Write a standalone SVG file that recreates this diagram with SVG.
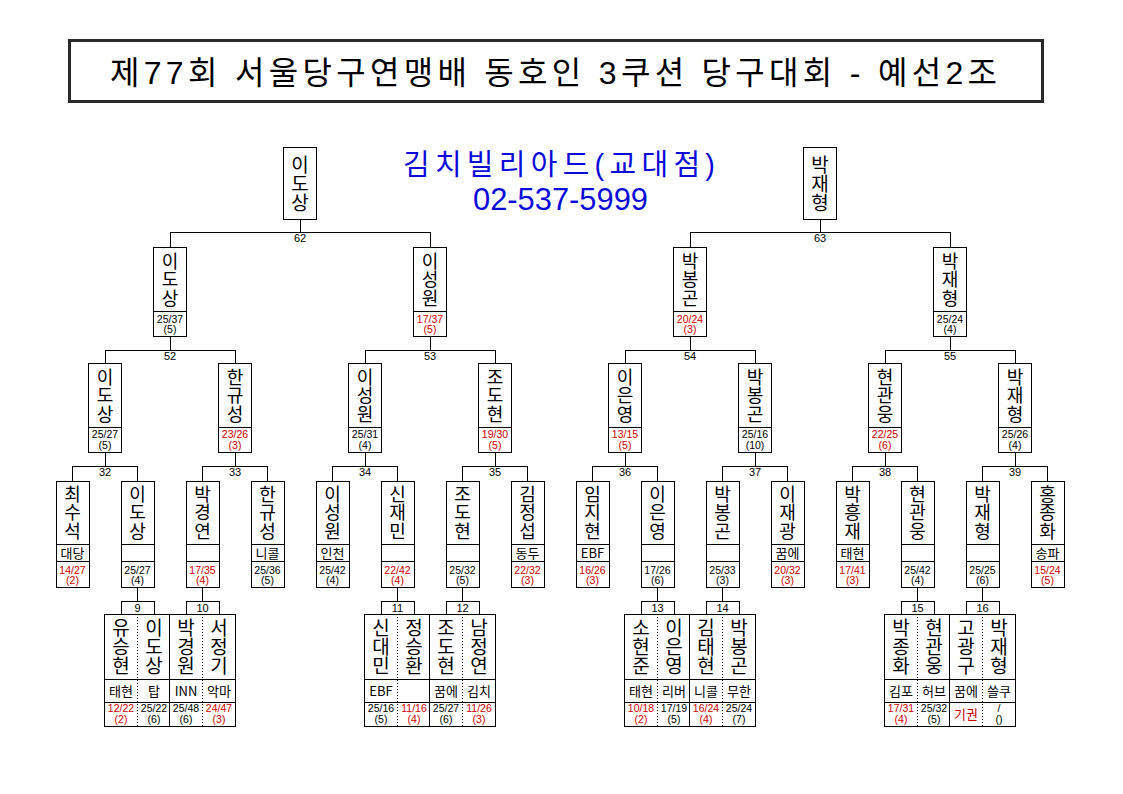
<svg xmlns="http://www.w3.org/2000/svg" width="1123" height="794" viewBox="0 0 1123 794">
<style>
.b{fill:#fff;stroke:#000;stroke-width:1;shape-rendering:crispEdges}
.l{fill:none;stroke:#000;stroke-width:1;shape-rendering:crispEdges}
.d{fill:none;stroke:#000;stroke-width:1;stroke-dasharray:1 2;shape-rendering:crispEdges}
.nm,.nf,.np{font-family:'Noto Sans CJK KR',sans-serif;text-anchor:middle;fill:#000;writing-mode:vertical-rl;text-orientation:upright}
.nm{font-size:18px;letter-spacing:0.5px}
.nf{font-size:19px}
.np{font-size:19px}
.cl{font-family:'Noto Sans CJK KR',sans-serif;font-size:13px;text-anchor:middle;fill:#000}
.sc{font-family:'Liberation Sans','Noto Sans CJK KR',sans-serif;font-size:10.5px;text-anchor:middle;fill:#000}
.no{font-family:'Liberation Sans',sans-serif;font-size:11px;text-anchor:middle;fill:#000}
.r{fill:#cc0000}
.hd{font-family:'Liberation Sans','Noto Sans CJK KR',sans-serif;fill:#0a0ad8;text-anchor:middle}
</style>
<rect width="1123" height="794" fill="#fff"/>
<g id="title">
<rect x="69.5" y="40.5" width="973" height="61" fill="none" stroke="#2a2a2a" stroke-width="3"/>
<text x="553.5" y="84" font-family="'Liberation Sans','Noto Sans CJK KR',sans-serif" font-size="32" text-anchor="middle" textLength="887" lengthAdjust="spacing">제77회 서울당구연맹배 동호인 3쿠션 당구대회 - 예선2조</text>
</g>
<g id="header">
<text class="hd" x="559" y="174.5" font-size="29" textLength="312" lengthAdjust="spacing">김치빌리아드(교대점)</text>
<text class="hd" x="560.5" y="210" font-size="31" textLength="175" lengthAdjust="spacingAndGlyphs">02-537-5999</text>
</g>
<g id="connectors">
<path class="l" d="M170 247.5V232H430V247.5M300 219.5V232M690 247.5V232H950V247.5M820 219.5V232"/>
<path class="l" d="M105 363.5V350H235V363.5M170 336.5V350M365 363.5V350H495V363.5M430 336.5V350M625 363.5V350H755V363.5M690 336.5V350M885 363.5V350H1015V363.5M950 336.5V350"/>
<path class="l" d="M72.5 481V466H137.5V481M105 452.5V466M202.5 481V466H267.5V481M235 452.5V466M332.5 481V466H397.5V481M365 452.5V466M462.5 481V466H527.5V481M495 452.5V466M592.5 481V466H657.5V481M625 452.5V466M722.5 481V466H787.5V481M755 452.5V466M852.5 481V466H917.5V481M885 452.5V466M982.5 481V466H1047.5V481M1015 452.5V466"/>
<path class="l" d="M137.5 587V601M202.5 587V601M397.5 587V601M462.5 587V601M657.5 587V601M722.5 587V601M917.5 587V601M982.5 587V601"/>
<text class="no" x="300" y="242">62</text><text class="no" x="820" y="242">63</text>
<text class="no" x="170" y="360">52</text><text class="no" x="430" y="360">53</text><text class="no" x="690" y="360">54</text><text class="no" x="950" y="360">55</text>
<text class="no" x="105" y="476">32</text><text class="no" x="235" y="476">33</text><text class="no" x="365" y="476">34</text><text class="no" x="495" y="476">35</text><text class="no" x="625" y="476">36</text><text class="no" x="755" y="476">37</text><text class="no" x="885" y="476">38</text><text class="no" x="1015" y="476">39</text>
</g>
<g id="f1"><rect class="b" x="283.5" y="147.5" width="33" height="72"/><text class="nf" x="300" y="183.5">이도상</text></g>
<g id="f2"><rect class="b" x="803.5" y="147.5" width="33" height="72"/><text class="nf" x="820" y="183.5">박재형</text></g>
<g id="s1"><rect class="b" x="153.5" y="247.5" width="33" height="89"/><path class="l" d="M153.5 311.5H186.5"/><text class="nm" x="170" y="279.5">이도상</text><text class="sc"><tspan x="170" y="322.5">25/37</tspan><tspan x="170" y="333">(5)</tspan></text></g>
<g id="s2"><rect class="b" x="413.5" y="247.5" width="33" height="89"/><path class="l" d="M413.5 311.5H446.5"/><text class="nm" x="430" y="279.5">이성원</text><text class="sc r"><tspan x="430" y="322.5">17/37</tspan><tspan x="430" y="333">(5)</tspan></text></g>
<g id="s3"><rect class="b" x="673.5" y="247.5" width="33" height="89"/><path class="l" d="M673.5 311.5H706.5"/><text class="nm" x="690" y="279.5">박봉곤</text><text class="sc r"><tspan x="690" y="322.5">20/24</tspan><tspan x="690" y="333">(3)</tspan></text></g>
<g id="s4"><rect class="b" x="933.5" y="247.5" width="33" height="89"/><path class="l" d="M933.5 311.5H966.5"/><text class="nm" x="950" y="279.5">박재형</text><text class="sc"><tspan x="950" y="322.5">25/24</tspan><tspan x="950" y="333">(4)</tspan></text></g>
<g id="q1"><rect class="b" x="88.5" y="363.5" width="33" height="89"/><path class="l" d="M88.5 427.5H121.5"/><text class="nm" x="105" y="395.5">이도상</text><text class="sc"><tspan x="105" y="438">25/27</tspan><tspan x="105" y="449">(5)</tspan></text></g>
<g id="q2"><rect class="b" x="218.5" y="363.5" width="33" height="89"/><path class="l" d="M218.5 427.5H251.5"/><text class="nm" x="235" y="395.5">한규성</text><text class="sc r"><tspan x="235" y="438">23/26</tspan><tspan x="235" y="449">(3)</tspan></text></g>
<g id="q3"><rect class="b" x="348.5" y="363.5" width="33" height="89"/><path class="l" d="M348.5 427.5H381.5"/><text class="nm" x="365" y="395.5">이성원</text><text class="sc"><tspan x="365" y="438">25/31</tspan><tspan x="365" y="449">(4)</tspan></text></g>
<g id="q4"><rect class="b" x="478.5" y="363.5" width="33" height="89"/><path class="l" d="M478.5 427.5H511.5"/><text class="nm" x="495" y="395.5">조도현</text><text class="sc r"><tspan x="495" y="438">19/30</tspan><tspan x="495" y="449">(5)</tspan></text></g>
<g id="q5"><rect class="b" x="608.5" y="363.5" width="33" height="89"/><path class="l" d="M608.5 427.5H641.5"/><text class="nm" x="625" y="395.5">이은영</text><text class="sc r"><tspan x="625" y="438">13/15</tspan><tspan x="625" y="449">(5)</tspan></text></g>
<g id="q6"><rect class="b" x="738.5" y="363.5" width="33" height="89"/><path class="l" d="M738.5 427.5H771.5"/><text class="nm" x="755" y="395.5">박봉곤</text><text class="sc"><tspan x="755" y="438">25/16</tspan><tspan x="755" y="449">(10)</tspan></text></g>
<g id="q7"><rect class="b" x="868.5" y="363.5" width="33" height="89"/><path class="l" d="M868.5 427.5H901.5"/><text class="nm" x="885" y="395.5">현관웅</text><text class="sc r"><tspan x="885" y="438">22/25</tspan><tspan x="885" y="449">(6)</tspan></text></g>
<g id="q8"><rect class="b" x="998.5" y="363.5" width="33" height="89"/><path class="l" d="M998.5 427.5H1031.5"/><text class="nm" x="1015" y="395.5">박재형</text><text class="sc"><tspan x="1015" y="438">25/26</tspan><tspan x="1015" y="449">(4)</tspan></text></g>
<g id="r1"><rect class="b" x="56" y="481" width="33" height="106"/><path class="l" d="M56 544H89M56 561H89"/><text class="nm" x="72.5" y="512.5">최수석</text><text class="cl" x="72.5" y="557.5">대당</text><text class="sc r"><tspan x="72.5" y="573.5">14/27</tspan><tspan x="72.5" y="584">(2)</tspan></text></g>
<g id="r2"><rect class="b" x="121" y="481" width="33" height="106"/><path class="l" d="M121 544H154M121 561H154"/><text class="nm" x="137.5" y="512.5">이도상</text><text class="sc"><tspan x="137.5" y="573.5">25/27</tspan><tspan x="137.5" y="584">(4)</tspan></text></g>
<g id="r3"><rect class="b" x="186" y="481" width="33" height="106"/><path class="l" d="M186 544H219M186 561H219"/><text class="nm" x="202.5" y="512.5">박경연</text><text class="sc r"><tspan x="202.5" y="573.5">17/35</tspan><tspan x="202.5" y="584">(4)</tspan></text></g>
<g id="r4"><rect class="b" x="251" y="481" width="33" height="106"/><path class="l" d="M251 544H284M251 561H284"/><text class="nm" x="267.5" y="512.5">한규성</text><text class="cl" x="267.5" y="557.5">니콜</text><text class="sc"><tspan x="267.5" y="573.5">25/36</tspan><tspan x="267.5" y="584">(5)</tspan></text></g>
<g id="r5"><rect class="b" x="316" y="481" width="33" height="106"/><path class="l" d="M316 544H349M316 561H349"/><text class="nm" x="332.5" y="512.5">이성원</text><text class="cl" x="332.5" y="557.5">인천</text><text class="sc"><tspan x="332.5" y="573.5">25/42</tspan><tspan x="332.5" y="584">(4)</tspan></text></g>
<g id="r6"><rect class="b" x="381" y="481" width="33" height="106"/><path class="l" d="M381 544H414M381 561H414"/><text class="nm" x="397.5" y="512.5">신재민</text><text class="sc r"><tspan x="397.5" y="573.5">22/42</tspan><tspan x="397.5" y="584">(4)</tspan></text></g>
<g id="r7"><rect class="b" x="446" y="481" width="33" height="106"/><path class="l" d="M446 544H479M446 561H479"/><text class="nm" x="462.5" y="512.5">조도현</text><text class="sc"><tspan x="462.5" y="573.5">25/32</tspan><tspan x="462.5" y="584">(5)</tspan></text></g>
<g id="r8"><rect class="b" x="511" y="481" width="33" height="106"/><path class="l" d="M511 544H544M511 561H544"/><text class="nm" x="527.5" y="512.5">김정섭</text><text class="cl" x="527.5" y="557.5">동두</text><text class="sc r"><tspan x="527.5" y="573.5">22/32</tspan><tspan x="527.5" y="584">(3)</tspan></text></g>
<g id="r9"><rect class="b" x="576" y="481" width="33" height="106"/><path class="l" d="M576 544H609M576 561H609"/><text class="nm" x="592.5" y="512.5">임지현</text><text class="cl" x="592.5" y="557.5">EBF</text><text class="sc r"><tspan x="592.5" y="573.5">16/26</tspan><tspan x="592.5" y="584">(3)</tspan></text></g>
<g id="r10"><rect class="b" x="641" y="481" width="33" height="106"/><path class="l" d="M641 544H674M641 561H674"/><text class="nm" x="657.5" y="512.5">이은영</text><text class="sc"><tspan x="657.5" y="573.5">17/26</tspan><tspan x="657.5" y="584">(6)</tspan></text></g>
<g id="r11"><rect class="b" x="706" y="481" width="33" height="106"/><path class="l" d="M706 544H739M706 561H739"/><text class="nm" x="722.5" y="512.5">박봉곤</text><text class="sc"><tspan x="722.5" y="573.5">25/33</tspan><tspan x="722.5" y="584">(3)</tspan></text></g>
<g id="r12"><rect class="b" x="771" y="481" width="33" height="106"/><path class="l" d="M771 544H804M771 561H804"/><text class="nm" x="787.5" y="512.5">이재광</text><text class="cl" x="787.5" y="557.5">꿈에</text><text class="sc r"><tspan x="787.5" y="573.5">20/32</tspan><tspan x="787.5" y="584">(3)</tspan></text></g>
<g id="r13"><rect class="b" x="836" y="481" width="33" height="106"/><path class="l" d="M836 544H869M836 561H869"/><text class="nm" x="852.5" y="512.5">박흥재</text><text class="cl" x="852.5" y="557.5">태현</text><text class="sc r"><tspan x="852.5" y="573.5">17/41</tspan><tspan x="852.5" y="584">(3)</tspan></text></g>
<g id="r14"><rect class="b" x="901" y="481" width="33" height="106"/><path class="l" d="M901 544H934M901 561H934"/><text class="nm" x="917.5" y="512.5">현관웅</text><text class="sc"><tspan x="917.5" y="573.5">25/42</tspan><tspan x="917.5" y="584">(4)</tspan></text></g>
<g id="r15"><rect class="b" x="966" y="481" width="33" height="106"/><path class="l" d="M966 544H999M966 561H999"/><text class="nm" x="982.5" y="512.5">박재형</text><text class="sc"><tspan x="982.5" y="573.5">25/25</tspan><tspan x="982.5" y="584">(6)</tspan></text></g>
<g id="r16"><rect class="b" x="1031" y="481" width="33" height="106"/><path class="l" d="M1031 544H1064M1031 561H1064"/><text class="nm" x="1047.5" y="512.5">홍종화</text><text class="cl" x="1047.5" y="557.5">송파</text><text class="sc r"><tspan x="1047.5" y="573.5">15/24</tspan><tspan x="1047.5" y="584">(5)</tspan></text></g>
<g id="p9"><rect class="b" x="121" y="601" width="33" height="13"/><text class="no" x="137.5" y="612">9</text><rect class="b" x="104.5" y="614" width="66" height="112"/><path class="l" d="M104.5 679H170.5M104.5 702H170.5"/><path class="d" d="M137.5 614V726"/>
<text class="np" x="121" y="646.5">유승현</text><text class="np" x="154" y="646.5">이도상</text>
<text class="cl" x="121" y="695.5">태현</text><text class="cl" x="154" y="695.5">탑</text>
<text class="sc r"><tspan x="121" y="712">12/22</tspan><tspan x="121" y="722.5">(2)</tspan></text><text class="sc"><tspan x="154" y="712">25/22</tspan><tspan x="154" y="722.5">(6)</tspan></text></g>
<g id="p10"><rect class="b" x="186" y="601" width="33" height="13"/><text class="no" x="202.5" y="612">10</text><rect class="b" x="169.5" y="614" width="66" height="112"/><path class="l" d="M169.5 679H235.5M169.5 702H235.5"/><path class="d" d="M202.5 614V726"/>
<text class="np" x="186" y="646.5">박경원</text><text class="np" x="219" y="646.5">서정기</text>
<text class="cl" x="186" y="695.5">INN</text><text class="cl" x="219" y="695.5">악마</text>
<text class="sc"><tspan x="186" y="712">25/48</tspan><tspan x="186" y="722.5">(6)</tspan></text><text class="sc r"><tspan x="219" y="712">24/47</tspan><tspan x="219" y="722.5">(3)</tspan></text></g>
<g id="p11"><rect class="b" x="381" y="601" width="33" height="13"/><text class="no" x="397.5" y="612">11</text><rect class="b" x="364.5" y="614" width="66" height="112"/><path class="l" d="M364.5 679H430.5M364.5 702H430.5"/><path class="d" d="M397.5 614V726"/>
<text class="np" x="381" y="646.5">신대민</text><text class="np" x="414" y="646.5">정승환</text>
<text class="cl" x="381" y="695.5">EBF</text>
<text class="sc"><tspan x="381" y="712">25/16</tspan><tspan x="381" y="722.5">(5)</tspan></text><text class="sc r"><tspan x="414" y="712">11/16</tspan><tspan x="414" y="722.5">(4)</tspan></text></g>
<g id="p12"><rect class="b" x="446" y="601" width="33" height="13"/><text class="no" x="462.5" y="612">12</text><rect class="b" x="429.5" y="614" width="66" height="112"/><path class="l" d="M429.5 679H495.5M429.5 702H495.5"/><path class="d" d="M462.5 614V726"/>
<text class="np" x="446" y="646.5">조도현</text><text class="np" x="479" y="646.5">남정연</text>
<text class="cl" x="446" y="695.5">꿈에</text><text class="cl" x="479" y="695.5">김치</text>
<text class="sc"><tspan x="446" y="712">25/27</tspan><tspan x="446" y="722.5">(6)</tspan></text><text class="sc r"><tspan x="479" y="712">11/26</tspan><tspan x="479" y="722.5">(3)</tspan></text></g>
<g id="p13"><rect class="b" x="641" y="601" width="33" height="13"/><text class="no" x="657.5" y="612">13</text><rect class="b" x="624.5" y="614" width="66" height="112"/><path class="l" d="M624.5 679H690.5M624.5 702H690.5"/><path class="d" d="M657.5 614V726"/>
<text class="np" x="641" y="646.5">소현준</text><text class="np" x="674" y="646.5">이은영</text>
<text class="cl" x="641" y="695.5">태현</text><text class="cl" x="674" y="695.5">리버</text>
<text class="sc r"><tspan x="641" y="712">10/18</tspan><tspan x="641" y="722.5">(2)</tspan></text><text class="sc"><tspan x="674" y="712">17/19</tspan><tspan x="674" y="722.5">(5)</tspan></text></g>
<g id="p14"><rect class="b" x="706" y="601" width="33" height="13"/><text class="no" x="722.5" y="612">14</text><rect class="b" x="689.5" y="614" width="66" height="112"/><path class="l" d="M689.5 679H755.5M689.5 702H755.5"/><path class="d" d="M722.5 614V726"/>
<text class="np" x="706" y="646.5">김태현</text><text class="np" x="739" y="646.5">박봉곤</text>
<text class="cl" x="706" y="695.5">니콜</text><text class="cl" x="739" y="695.5">무한</text>
<text class="sc r"><tspan x="706" y="712">16/24</tspan><tspan x="706" y="722.5">(4)</tspan></text><text class="sc"><tspan x="739" y="712">25/24</tspan><tspan x="739" y="722.5">(7)</tspan></text></g>
<g id="p15"><rect class="b" x="901" y="601" width="33" height="13"/><text class="no" x="917.5" y="612">15</text><rect class="b" x="884.5" y="614" width="66" height="112"/><path class="l" d="M884.5 679H950.5M884.5 702H950.5"/><path class="d" d="M917.5 614V726"/>
<text class="np" x="901" y="646.5">박종화</text><text class="np" x="934" y="646.5">현관웅</text>
<text class="cl" x="901" y="695.5">김포</text><text class="cl" x="934" y="695.5">허브</text>
<text class="sc r"><tspan x="901" y="712">17/31</tspan><tspan x="901" y="722.5">(4)</tspan></text><text class="sc"><tspan x="934" y="712">25/32</tspan><tspan x="934" y="722.5">(5)</tspan></text></g>
<g id="p16"><rect class="b" x="966" y="601" width="33" height="13"/><text class="no" x="982.5" y="612">16</text><rect class="b" x="949.5" y="614" width="66" height="112"/><path class="l" d="M949.5 679H1015.5M949.5 702H1015.5"/><path class="d" d="M982.5 614V726"/>
<text class="np" x="966" y="646.5">고광구</text><text class="np" x="999" y="646.5">박재형</text>
<text class="cl" x="966" y="695.5">꿈에</text><text class="cl" x="999" y="695.5">쓸쿠</text>
<text class="cl r" x="966" y="719">기권</text><text class="sc"><tspan x="999" y="712">/</tspan><tspan x="999" y="722.5">()</tspan></text></g>
</svg>
